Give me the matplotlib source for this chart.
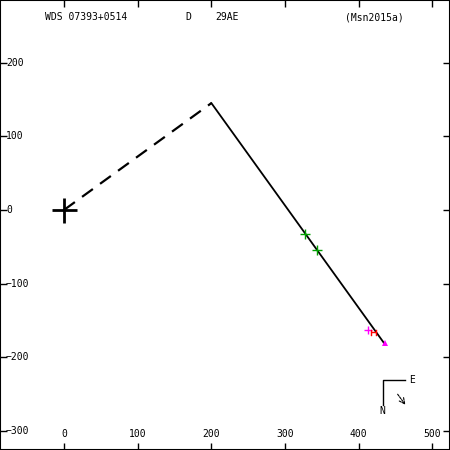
import matplotlib.pyplot as plt
import numpy as np

# orbit plot of WDS 07393+0514 (Msn2015a)
title_parts = ['WDS 07393+0514', 'D', '29AE', '(Msn2015a)']

orbit_x = [200, 436]
orbit_y = [145, -183]
node_x = [0, 200]
node_y = [0, 145]

obs_green_x = [327, 343]
obs_green_y = [-33, -54]
obs_mag_x = [413, 436]
obs_mag_y = [-163, -181]
obs_red_x = [421]
obs_red_y = [-167]

xticks = [0, 100, 200, 300, 400, 500]
yticks = [200, 100, 0, -100, -200, -300]

plt.rcParams['font.family'] = 'DejaVu Sans Mono'
fig = plt.figure(figsize=(4.5, 4.5), dpi=100)
ax = fig.add_axes([0, 0, 1, 1])
ax.set_xlim(-87, 524)
ax.set_ylim(-326, 285)

ax.plot(node_x, node_y, '--', color='black', lw=1.6, dashes=(6, 4))
ax.plot(orbit_x, orbit_y, '-', color='black', lw=1.3)
ax.plot([0], [0], '+', color='black', ms=18, mew=2)

ax.plot(obs_green_x, obs_green_y, '+', color='#00a000', ms=7, mew=1)
ax.plot(obs_mag_x[:1], obs_mag_y[:1], '+', color='#ff00ff', ms=6, mew=1)
ax.plot(obs_mag_x[1:], obs_mag_y[1:], '^', color='#ff00ff', ms=5, mew=0)
ax.plot(obs_red_x, obs_red_y, marker=r'$\mathrm{H}$', color='red', ms=5, mew=0.3, ls='none')

ax.set_xticks(xticks)
ax.set_yticks(yticks)
ax.tick_params(direction='in', length=5, width=1, top=True, right=True,
               labelbottom=False, labelleft=False)
for s in ax.spines.values():
    s.set_linewidth(1.5)

for v in xticks:
    ax.text(v, -298, str(v), ha='center', va='top', fontsize=7)
for v in yticks:
    ax.text(-79, v, str(v).replace('-', '\u2212'), ha='left', va='center', fontsize=7)

# title line
fig.text(45 / 450, 1 - 17 / 450, title_parts[0], ha='left', va='center', fontsize=7)
fig.text(188 / 450, 1 - 17 / 450, title_parts[1], ha='center', va='center', fontsize=7)
fig.text(215 / 450, 1 - 17 / 450, title_parts[2], ha='left', va='center', fontsize=7)
fig.text(345 / 450, 1 - 17 / 450, title_parts[3], ha='left', va='center', fontsize=7)

# N/E compass and direction of motion
tr = ax.transAxes
ax.plot([383 / 450, 383 / 450, 405 / 450], [1 - 405 / 450, 1 - 380 / 450, 1 - 380 / 450],
        color='black', lw=1, transform=tr)
ax.text(412 / 450, 1 - 380 / 450, 'E', transform=tr, ha='center', va='center', fontsize=7)
ax.text(382 / 450, 1 - 411 / 450, 'N', transform=tr, ha='center', va='center', fontsize=7)
ax.annotate('', xy=(407 / 450, 1 - 407 / 450), xytext=(396 / 450, 1 - 392 / 450),
            xycoords=tr, textcoords=tr,
            arrowprops=dict(arrowstyle='->', color='black', lw=0.8, linestyle=(0, (2, 1))))

fig.savefig('out.png', dpi=100)
